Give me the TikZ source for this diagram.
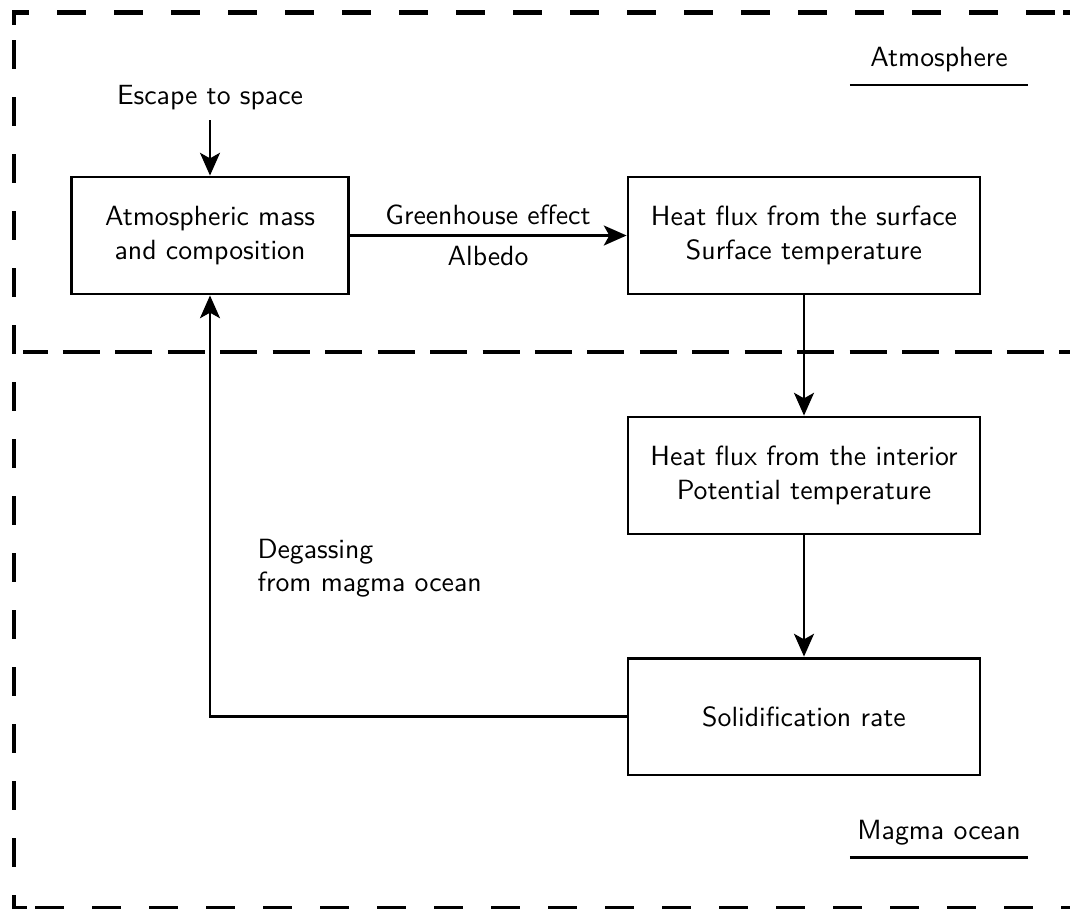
\documentclass[tikz,border=0pt]{standalone}
\usetikzlibrary{arrows.meta}
\begin{document}
\begin{tikzpicture}[x=0.36pt,y=-0.36pt,font=\sffamily,
  box/.style={draw,line width=1.05pt,minimum height=42.1pt,align=center,inner sep=0pt},
  conn/.style={line width=0.9pt,-{Stealth[length=8.2pt,width=7.2pt,inset=2pt]}},
  region/.style={line width=1.6pt},
  regiondash/.style={region,dash pattern=on 10.26pt off 10.26pt},
  tag/.style={minimum width=64.1pt,inner xsep=0pt,inner ysep=4.5pt,outer sep=0pt,text height=6.94pt,text depth=1.94pt},
  lbl/.style={inner sep=3.33pt}]
\useasboundingbox (0,0) rectangle (1070,908);
% region frames
\draw[regiondash,dash phase=4.32pt] (12,12.5) -- (1056,12.5);
\draw[region] (1063,12.5) -- (1076,12.5);
\draw[region] (14,10.25) -- (14,25);
\draw[regiondash] (14,40) -- (14,922);
\draw[region,dash pattern=on 13.32pt off 5.56pt,dash phase=4.5pt] (23,352) -- (1076,352);
\draw[regiondash] (35,908.6) -- (1076,908.6);
\draw[region] (12,908.6) -- (27,908.6);
% region tags
\node[tag] (atmtag) at (939,60) {Atmosphere};
\draw[line width=0.9pt] (atmtag.south west) -- (atmtag.south east);
\node[tag] (magtag) at (939,832.5) {Magma ocean};
\draw[line width=0.9pt] (magtag.south west) -- (magtag.south east);
% boxes
\node[box,minimum width=99.4pt] (atm) at (210,235.5) {Atmospheric mass\\and composition};
\node[box,minimum width=126.7pt] (hs) at (804,235.5) {Heat flux from the surface\\Surface temperature};
\node[box,minimum width=126.7pt] (hi) at (804,475.5) {Heat flux from the interior\\Potential temperature};
\node[box,minimum width=126.7pt] (sol) at (804,716.5) {Solidification rate};
% labels
\node[lbl] (esc) at (210,98) {Escape to space};
\node[anchor=west,align=left,inner sep=0pt] (degas) at (257,568) {Degassing\\from magma ocean};
% connectors
\draw[conn] (esc.south) -- (atm.north);
\draw[conn] (atm.east) -- node[above,lbl] (ghe) {Greenhouse effect} node[below,lbl] (alb) {Albedo} (hs.west);
\draw[conn] (hs.south) -- (hi.north);
\draw[conn] (hi.south) -- (sol.north);
\draw[conn] (sol.west) -| (atm.south);
\end{tikzpicture}
\end{document}
